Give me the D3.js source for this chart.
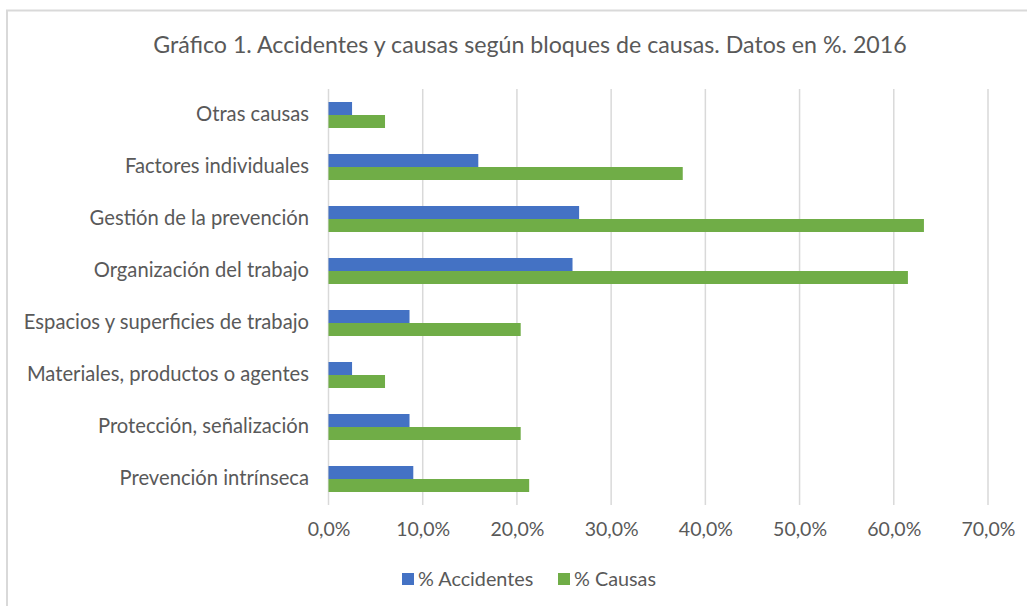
<!DOCTYPE html>
<html><head><meta charset="utf-8">
<script src="https://cdn.jsdelivr.net/npm/d3@7"></script>
<style>
html,body{margin:0;padding:0;background:#fff;}
svg{display:block;font-family:Lato, "Open Sans", sans-serif;}
</style></head>
<body>
<svg id="chart" width="1027" height="606"></svg>
<script>
const title = "Gráfico 1. Accidentes y causas según bloques de causas. Datos en %. 2016";
const categories = ["Otras causas","Factores individuales","Gestión de la prevención","Organización del trabajo","Espacios y superficies de trabajo","Materiales, productos o agentes","Protección, señalización","Prevención intrínseca"];
const seriesNames = ["% Accidentes","% Causas"];
const accidentes = [2.5,15.9,26.6,25.9,8.6,2.5,8.6,9.0];
const causas = [6.0,37.6,63.2,61.5,20.4,6.0,20.4,21.3];
const tickValues = [0,10,20,30,40,50,60,70];
const colors = ["#4472C4","#70AD47"];

const svg = d3.select("#chart");
const textColor = "#595959";

// chart border
svg.append("rect").attr("x",7).attr("y",10.5).attr("width",1030).attr("height",620)
  .attr("fill","#fff").attr("stroke","#d9d9d9").attr("stroke-width",2);

const x = d3.scaleLinear().domain([0,70]).range([328.5,988]);
const y = d3.scaleBand().domain(categories).range([89,505]).paddingInner(0.5).paddingOuter(0.25);
const ys = d3.scaleBand().domain(seriesNames).range([0,y.bandwidth()]);

// title
svg.append("text").attr("x",530).attr("y",53).attr("text-anchor","middle")
  .attr("font-size",23.2).attr("fill",textColor).text(title);

// gridlines
svg.append("g").selectAll("line").data(tickValues).join("line")
  .attr("x1",d=>x(d)).attr("x2",d=>x(d)).attr("y1",89).attr("y2",505)
  .attr("stroke","#d9d9d9").attr("stroke-width",1.5);

// x axis labels
const xAxis = d3.axisBottom(x).tickValues(tickValues).tickSize(0).tickPadding(0)
  .tickFormat(d=>d3.format(".1f")(d).replace(".",",")+"%");
const gx = svg.append("g").attr("transform","translate(0,522)").call(xAxis);
gx.select(".domain").remove();
gx.selectAll("text").attr("font-size",19.5).attr("fill",textColor).attr("font-family","Lato, sans-serif");

// y axis labels
const yAxis = d3.axisLeft(y).tickSize(0).tickPadding(0);
const gy = svg.append("g").attr("transform","translate(309,0)").call(yAxis);
gy.select(".domain").remove();
gy.selectAll("text").attr("font-size",20.2).attr("fill",textColor).attr("font-family","Lato, sans-serif");

// bars
const data = categories.map((c,i)=>({cat:c, vals:[accidentes[i],causas[i]]}));
const groups = svg.append("g").selectAll("g").data(data).join("g")
  .attr("transform",d=>`translate(0,${y(d.cat)})`);
groups.selectAll("rect").data(d=>d.vals.map((v,j)=>({v,name:seriesNames[j],j}))).join("rect")
  .attr("x",x(0)).attr("y",d=>ys(d.name)).attr("width",d=>x(d.v)-x(0)).attr("height",ys.bandwidth())
  .attr("fill",d=>colors[d.j]);

// legend
const legendX = [402,558];
const lg = svg.append("g").selectAll("g").data(seriesNames).join("g")
  .attr("transform",(d,i)=>`translate(${legendX[i]},573)`);
lg.append("rect").attr("width",12).attr("height",12).attr("fill",(d,i)=>colors[i]);
lg.append("text").attr("x",16).attr("y",12.5).attr("font-size",19.8).attr("fill",textColor).text(d=>d);
</script>
</body></html>
